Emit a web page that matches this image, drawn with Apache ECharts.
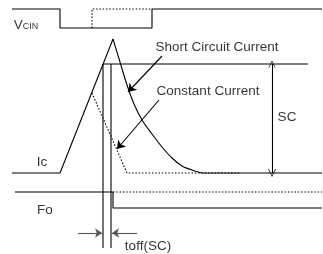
<!DOCTYPE html>
<html><head><meta charset="utf-8">
<script src="https://cdn.jsdelivr.net/npm/echarts@6/dist/echarts.min.js"></script>
<style>html,body{margin:0;padding:0;background:#fff}#c{width:323px;height:254px}</style>
</head><body><div id="c"></div>
<script>
// Timing diagram traces (x = time position, y = level position; y grows downward)
var vcinSolid = [[12,9],[60,9],[60,28],[152,28],[152,9],[322,9]];
var vcinDotted = [[92,28],[92,9],[152,9]];
var icRamp = [[12,173],[60,173],[113,39]];
var icShortCircuit = [[113,39],[120,62],[127,85],[134,104],[142,120],[152,134],[162,147],[172,158],[182,166],[192,170],[204,173],[322,173]];
var icConstant = [[92,93],[127,173],[240,173]];
var markerLineA = [[103,64],[103,248]];
var markerLineB = [[111,64],[111,248]];
var scTopLine = [[103,64],[308,64]];
var foSolid = [[15,192],[113,192],[113,208],[322,208]];
var foDotted = [[113,192],[322,192]];
var scArrow = [[272,64],[272,173]];
var shortCircuitPointer = [[162,56],[128,92]];
var constantPointer = [[159,100],[117,149]];
var toffLeftArrow = [[78,233],[102,233]];
var toffRightArrow = [[137,233],[112,233]];
var labels = [
  {text:'{v|V}{s|CIN}', pos:[26,25]},
  {text:'Ic', pos:[42,162]},
  {text:'Fo', pos:[45,210]},
  {text:'Short Circuit Current', pos:[217,47]},
  {text:'Constant Current', pos:[208,91]},
  {text:'SC', pos:[287,117]},
  {text:'toff(SC)', pos:[148,246]}
];

var black = '#000';
function line(data, dashed, smooth){
  return {type:'line', data:data, symbol:'none', smooth:smooth||false, silent:true,
    lineStyle:{color:black, width:1.1, type: dashed ? [1.5,1.8] : 'solid'}, z:2};
}
var openArrow = 'path://M5,0 L10,10 L9,10 L5,2 L1,10 L0,10 Z';
function arrows(data, sym, size, color, both){
  return {type:'lines', coordinateSystem:'cartesian2d', silent:true, z:3,
    symbol: both ? [sym, sym] : ['none', sym], symbolSize:size,
    lineStyle:{color:color, width:1.1, opacity:1},
    data: data.map(function(d){return {coords:d};})};
}

var chart = echarts.init(document.getElementById('c'), null, {renderer:'canvas'});
chart.setOption({
  animation:false,
  grid:{left:0,right:0,top:0,bottom:0},
  xAxis:{type:'value', min:0, max:323, show:false},
  yAxis:{type:'value', min:0, max:254, inverse:true, show:false},
  series:[
    line(vcinSolid), line(vcinDotted, true),
    line(icRamp), line(icShortCircuit, false, 0.3), line(icConstant, true),
    line(markerLineA), line(markerLineB), line(scTopLine),
    line(foSolid), line(foDotted, true),
    arrows([shortCircuitPointer, constantPointer], 'arrow', [5,8], black),
    arrows([scArrow], openArrow, [7,8], black, true),
    arrows([toffLeftArrow, toffRightArrow], 'arrow', [5,7], '#555'),
    {type:'scatter', symbolSize:0, silent:true, z:5,
     data: labels.map(function(l){return {value:l.pos, label:{formatter:l.text}};}),
     label:{show:true, position:'inside', color:black, fontFamily:'Liberation Sans, Arial, sans-serif', fontSize:13.5,
       rich:{v:{fontSize:13.5, color:black, fontFamily:'Liberation Sans, Arial, sans-serif', verticalAlign:'bottom'},
             s:{fontSize:9, color:black, fontFamily:'Liberation Sans, Arial, sans-serif', verticalAlign:'bottom', padding:[0,0,1,0]}}}}
  ]
});
</script></body></html>
